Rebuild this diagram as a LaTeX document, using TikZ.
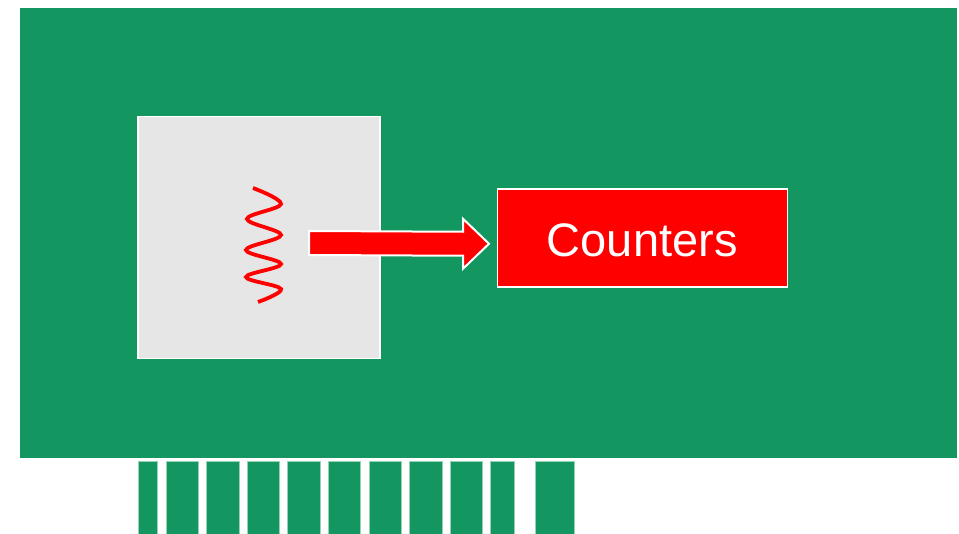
\documentclass[tikz,border=0pt]{standalone}
\usepackage{fontspec}
\usetikzlibrary{calc}
\setmainfont{Liberation Sans}
\definecolor{boardgreen}{RGB}{19,150,95}
\definecolor{chipgrey}{RGB}{230,230,230}
\definecolor{pinedge}{RGB}{150,210,180}
\begin{document}
\begin{tikzpicture}[x=1pt,y=-1pt,
  pinbox/.style={fill=boardgreen,draw=pinedge,line width=0.8pt},
  arrowshape/.style={fill=red,draw=white,line width=2pt,line join=miter}]
\useasboundingbox (0,0) rectangle (959,534);
\fill[white] (0,0) rectangle (959,534);
% board
\node[fill=boardgreen,draw=none,inner sep=0,minimum width=937pt,minimum height=450pt,anchor=north west] (board) at (20,8) {};
% pins
\foreach \a/\b in {138.3/157.7,166/198.7,206.7/239,247/279.7,287.7/320.3,328.3/360.7,369/401.3,409.3/442,450/482.7,490.7/514.3,535.7/574}{
  \draw[pinbox] (\a,461) rectangle (\b,535);
}
% chip
\node[fill=chipgrey,draw=white,line width=1.5pt,inner sep=0,minimum width=242pt,minimum height=242pt,anchor=north west] (chip) at (137,116) {};
% counters
\node[fill=red,draw=white,line width=1.5pt,inner sep=0,minimum width=290pt,minimum height=98pt,anchor=north west] (counters) at (496.5,188.5) {};
\node[text=white,font=\fontsize{47}{50}\selectfont,inner sep=0] (label) at ($(counters.center)+(0,2)$) {Counters};
% arrow
\coordinate (astart) at (309,243);
\coordinate (tip) at ($(counters.west)+(-7.5,5.5)$);
\draw[arrowshape] ($(astart)+(0,-12)$) -- ($(tip)+(-26,-12)$) -- ($(tip)+(-26,-25)$) -- (tip) -- ($(tip)+(-26,25)$) -- ($(tip)+(-26,12)$) -- ($(astart)+(0,12)$) -- cycle;
% spring
\draw[red,line width=3.8pt,line cap=butt] plot[smooth,tension=0.6] coordinates {(253,188) (281,204) (247,219) (281,235) (246,250) (281,264) (246,277) (281,289) (258,302)};
\end{tikzpicture}
\end{document}
